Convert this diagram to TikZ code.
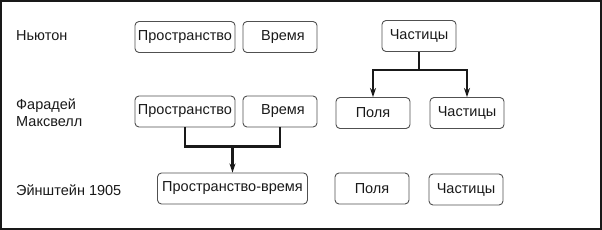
\documentclass[tikz,border=0pt]{standalone}
\usepackage{fontspec}
\setmainfont{Liberation Sans}
\usetikzlibrary{arrows.meta,calc,positioning}
\definecolor{boxgray}{RGB}{80,80,80}
\definecolor{inkgray}{RGB}{25,25,25}
\begin{document}
\begin{tikzpicture}[x=1pt,y=-1pt,font=\fontsize{14.5}{17}\selectfont,>=Stealth,text=inkgray,
      bx/.style={draw=boxgray,line width=.9pt,rounded corners=4pt,minimum height=31pt,inner sep=2pt},
      wd/.style={bx,minimum width=100pt},
      nw/.style={bx,minimum width=74pt},
      lbl/.style={anchor=west,align=left,inner sep=0pt},
      conn/.style={draw=inkgray,line width=2.5pt},
      tip/.style={-{Stealth[length=9pt,width=6pt]}}]
      \useasboundingbox (0,0) rectangle (602,230);
      \draw[inkgray,line width=1.5pt] (1,1) rectangle (601,229);
      % row labels
      \node[lbl] (newton) at (16,36) {Ньютон};
      \node[lbl] (faraday) at (16,113) {Фарадей\\Максвелл};
      \node[lbl] (einstein) at (16,190) {Эйнштейн 1905};
      % Newton
      \node[wd] (nspace) at (185,37) {Пространство};
      \node[nw] (ntime) at (280,37) {\hspace{6pt}Время};
      \node[nw] (npart) at (419,36) {Частицы};
      % Faraday, Maxwell
      \node[wd] (fspace) at (185,111.5) {Пространство};
      \node[nw] (ftime) at (280,111.5) {\hspace{6pt}Время};
      \node[nw] (ffield) at (373,113) {Поля};
      \node[nw] (fpart) at (467,113) {Частицы};
      % Einstein 1905
      \node[bx,minimum width=150pt] (espacetime) at (232.5,188.5) {Пространство-время};
      \node[nw] (efield) at (372,188.5) {Поля};
      \node[nw] (epart) at (466,189.5) {Частицы};
      % connectors
      \draw[conn] (npart.south) -- ++(0,18) coordinate (nfork);
      \draw[conn,tip] (nfork) -| (ffield.north);
      \draw[conn,tip] (nfork) -| (fpart.north);
      \draw[conn] (fspace.south) -- ++(0,19) -| (ftime.south);
      \coordinate (fjoin) at ($(fspace.south)!.5!(ftime.south)+(0,19)$);
      \draw[conn,tip] (fjoin) -- (fjoin |- espacetime.north);
    \end{tikzpicture}
\end{document}
